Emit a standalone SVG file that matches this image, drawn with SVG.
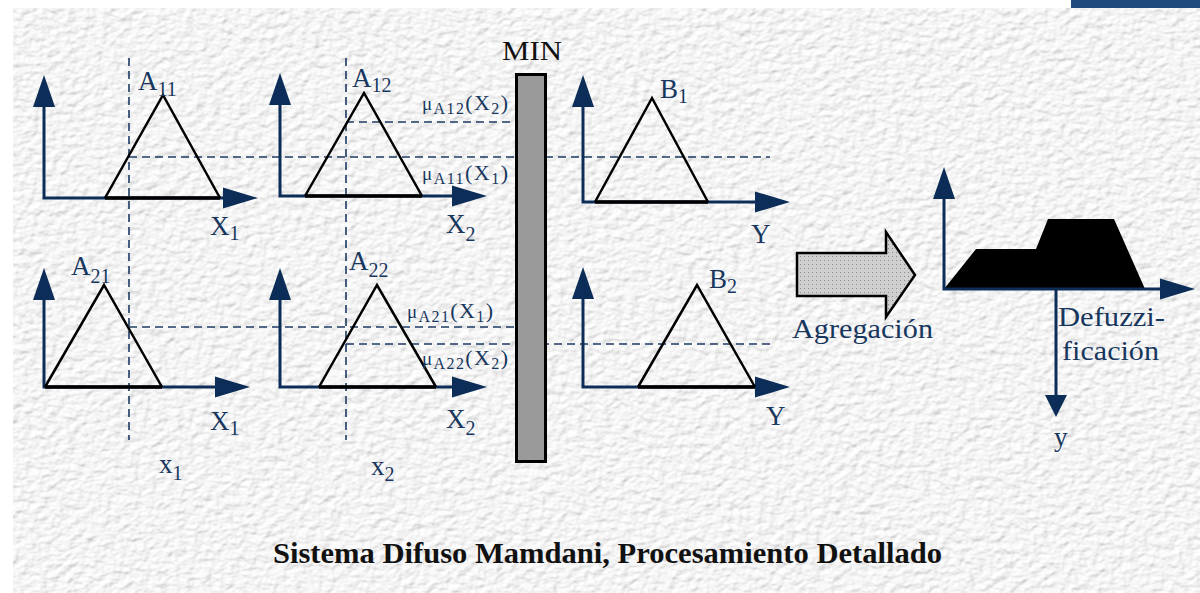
<svg xmlns="http://www.w3.org/2000/svg" xmlns:xlink="http://www.w3.org/1999/xlink" width="1200" height="593" viewBox="0 0 1200 593">
<style>
.axis{fill:none;stroke:#0c2d57;stroke-width:3}
.ah{fill:#0c2d57}
.tri{fill:none;stroke:#000;stroke-width:2.5;stroke-linejoin:miter}
.base{stroke:#000;stroke-width:3.5}
.dash{fill:none;stroke:#1b3a62;stroke-width:1.6;stroke-dasharray:8 5}
.lbl{font-family:"Liberation Serif","Times New Roman",serif;font-size:27px;fill:#17375e}
.sub{font-size:20px}
.mu{font-family:"Liberation Serif","Times New Roman",serif;font-size:22px;fill:#17375e}
.mus{font-size:16px}
.musym{font-size:19px}
.cap{font-family:"Liberation Serif","Times New Roman",serif;font-size:30px;font-weight:bold;fill:#111}
</style>
<defs>
<filter id="paper" x="0%" y="0%" width="100%" height="100%">
<feTurbulence type="fractalNoise" baseFrequency="0.11 0.15" numOctaves="2" seed="4" result="noise"/>
<feDiffuseLighting in="noise" surfaceScale="1.8" diffuseConstant="1" lighting-color="#ffffff" result="lit">
<feDistantLight azimuth="235" elevation="66"/>
</feDiffuseLighting>
<feComposite in="lit" in2="SourceGraphic" operator="in"/>
</filter>
<pattern id="dots" width="4" height="4" patternUnits="userSpaceOnUse">
<rect width="4" height="4" fill="#cfcfcf"/>
<rect width="1" height="1" fill="#8a8a8a"/>
</pattern>
<path id="ahU" d="M0,0 L11,32 L-11,32 Z"/>
<path id="ahR" d="M0,0 L-35,-10.5 L-35,10.5 Z"/>
<path id="ahD" d="M0,0 L-11,-22 L11,-22 Z"/>
</defs>

<rect x="0" y="0" width="1200" height="593" fill="#ffffff"/>
<rect x="13" y="8" width="1187" height="585" fill="#e4e4e4" filter="url(#paper)"/>
<rect x="1071" y="0" width="129" height="8" fill="#1f4a7d"/>

<g id="connectors">
<path class="dash" d="M129,58 V440"/>
<path class="dash" d="M346,58 V440"/>
<path class="dash" d="M129,157 H770"/>
<path class="dash" d="M346,122 H515"/>
<path class="dash" d="M129,327 H515"/>
<path class="dash" d="M346,344 H773"/>
<g id="agregacion-arrow">
<path d="M797,253 H886 V232 L915,275 L886,317 V296 H797 Z" fill="url(#dots)" stroke="#000" stroke-width="2.5"/>
<text class="lbl" x="792" y="338" textLength="141" lengthAdjust="spacingAndGlyphs">Agregación</text>
</g>
</g>

<g id="panel-a11">
<path class="axis" d="M44,104 V198 H224"/>
<use xlink:href="#ahU" class="ah" x="44" y="75"/>
<use xlink:href="#ahR" class="ah" x="258" y="198"/>
<path class="tri" d="M105,198 L163,95 L220,198"/>
<path class="base" d="M105,198 H220"/>
<text class="lbl" x="138" y="90">A<tspan class="sub" dy="6">11</tspan></text>
<text class="lbl" x="210" y="235">X<tspan class="sub" dy="5">1</tspan></text>
</g>

<g id="panel-a12">
<path class="axis" d="M280,102 V196 H453"/>
<use xlink:href="#ahU" class="ah" x="280" y="73"/>
<use xlink:href="#ahR" class="ah" x="487" y="196"/>
<path class="tri" d="M305,196 L364,93 L422,196"/>
<path class="base" d="M305,196 H422"/>
<text class="lbl" x="352" y="87">A<tspan class="sub" dy="5">12</tspan></text>
<text class="lbl" x="446" y="233">X<tspan class="sub" dy="8">2</tspan></text>
<text class="mu" x="422" y="110" textLength="86" lengthAdjust="spacing"><tspan class="musym">μ</tspan><tspan class="mus" dy="4">A12</tspan><tspan dy="-4">(X</tspan><tspan class="mus" dy="4">2</tspan><tspan dy="-4">)</tspan></text>
<text class="mu" x="422" y="180" textLength="86" lengthAdjust="spacing"><tspan class="musym">μ</tspan><tspan class="mus" dy="4">A11</tspan><tspan dy="-4">(X</tspan><tspan class="mus" dy="4">1</tspan><tspan dy="-4">)</tspan></text>
</g>

<g id="panel-b1">
<path class="axis" d="M583,106 V202 H756"/>
<use xlink:href="#ahU" class="ah" x="583" y="75"/>
<use xlink:href="#ahR" class="ah" x="790" y="202"/>
<path class="tri" d="M595,202 L652,98 L708,202"/>
<path class="base" d="M595,202 H708"/>
<text class="lbl" x="660" y="98">B<tspan class="sub" dy="5">1</tspan></text>
<text class="lbl" x="751" y="243">Y</text>
</g>

<g id="panel-a21">
<path class="axis" d="M44,299 V387 H216"/>
<use xlink:href="#ahU" class="ah" x="44" y="268"/>
<use xlink:href="#ahR" class="ah" x="250" y="387"/>
<path class="tri" d="M45,387 L104,285 L162,387"/>
<path class="base" d="M45,387 H162"/>
<text class="lbl" x="71" y="275">A<tspan class="sub" dy="8">21</tspan></text>
<text class="lbl" x="210" y="430">X<tspan class="sub" dy="5">1</tspan></text>
<text class="lbl" x="159" y="473">x<tspan class="sub" dy="7">1</tspan></text>
</g>

<g id="panel-a22">
<path class="axis" d="M280,299 V387 H453"/>
<use xlink:href="#ahU" class="ah" x="280" y="268"/>
<use xlink:href="#ahR" class="ah" x="487" y="387"/>
<path class="tri" d="M319,387 L377,285 L436,387"/>
<path class="base" d="M319,387 H436"/>
<text class="lbl" x="349" y="270">A<tspan class="sub" dy="7">22</tspan></text>
<text class="lbl" x="446" y="428">X<tspan class="sub" dy="7">2</tspan></text>
<text class="lbl" x="371" y="475">x<tspan class="sub" dy="6">2</tspan></text>
<text class="mu" x="407" y="318" textLength="86" lengthAdjust="spacing"><tspan class="musym">μ</tspan><tspan class="mus" dy="4">A21</tspan><tspan dy="-4">(X</tspan><tspan class="mus" dy="4">1</tspan><tspan dy="-4">)</tspan></text>
<text class="mu" x="422" y="365" textLength="86" lengthAdjust="spacing"><tspan class="musym">μ</tspan><tspan class="mus" dy="4">A22</tspan><tspan dy="-4">(X</tspan><tspan class="mus" dy="4">2</tspan><tspan dy="-4">)</tspan></text>
</g>

<g id="panel-b2">
<path class="axis" d="M583,298 V387 H756"/>
<use xlink:href="#ahU" class="ah" x="583" y="267"/>
<use xlink:href="#ahR" class="ah" x="790" y="387"/>
<path class="tri" d="M638,387 L697,285 L755,387"/>
<path class="base" d="M638,387 H755"/>
<text class="lbl" x="709" y="288">B<tspan class="sub" dy="5">2</tspan></text>
<text class="lbl" x="766" y="425">Y</text>
</g>

<g id="min-bar">
<rect x="516.5" y="74.5" width="29" height="387" fill="#9a9a9a" stroke="#000" stroke-width="3"/>
<text x="502" y="60" font-family="Liberation Serif, Times New Roman, serif" font-size="27" fill="#111" textLength="60" lengthAdjust="spacingAndGlyphs">MIN</text>
</g>

<g id="panel-output">
<path d="M944,289 L976,249 L1036,249 L1048,219 L1114,219 L1145,289 Z" fill="#000"/>
<path class="axis" d="M944,198 V289 H1161"/>
<path class="axis" d="M1056,289 V396"/>
<use xlink:href="#ahU" class="ah" x="944" y="167"/>
<use xlink:href="#ahR" class="ah" x="1195" y="289"/>
<use xlink:href="#ahD" class="ah" x="1056" y="417"/>
<text class="lbl" x="1058" y="326" textLength="107" lengthAdjust="spacingAndGlyphs">Defuzzi-</text>
<text class="lbl" x="1062" y="360" textLength="97" lengthAdjust="spacingAndGlyphs">ficación</text>
<text class="lbl" x="1054" y="446">y</text>
</g>

<text class="cap" x="273" y="563" textLength="669" lengthAdjust="spacingAndGlyphs">Sistema Difuso Mamdani, Procesamiento Detallado</text>
</svg>
